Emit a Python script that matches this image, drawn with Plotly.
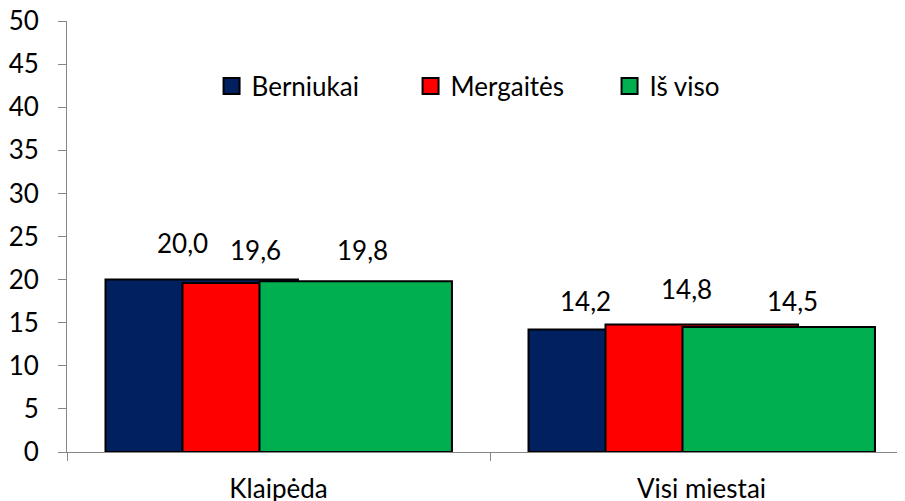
import plotly.graph_objects as go

categories = ["Klaipėda", "Visi miestai"]
series_names = ["Berniukai", "Mergaitės", "Iš viso"]
berniukai = [20.0, 14.2]
mergaites = [19.6, 14.8]
is_viso = [19.8, 14.5]
y_ticks = [0, 5, 10, 15, 20, 25, 30, 35, 40, 45, 50]

values = [berniukai, mergaites, is_viso]
colors = ["#002060", "#FF0000", "#00B050"]
offsets = [-0.409, -0.227, -0.045]
bar_width = 0.455

# label placement styles (x offset from category centre in category units, y shift in px)
label_dx = [[-0.227, -0.274], [-0.054, -0.035], [0.199, 0.215]]
label_dy = [[37, 29], [33, 35], [31, 26]]

FONT = "Lato"
FS = 26

fig = go.Figure()
for name, vals, col, off in zip(series_names, values, colors, offsets):
    fig.add_trace(go.Bar(
        x=categories, y=vals, name=name,
        marker=dict(color=col, line=dict(color="black", width=2)),
        offset=off, width=bar_width, showlegend=False,
    ))
    fig.add_trace(go.Scatter(
        x=[None], y=[None], mode="markers", name=name,
        marker=dict(symbol="square", size=16, color=col,
                    line=dict(color="black", width=2)),
    ))

annotations = []
for si, vals in enumerate(values):
    for ci, v in enumerate(vals):
        annotations.append(dict(
            x=ci + label_dx[si][ci], y=v, xref="x", yref="y",
            text=f"{v:.1f}".replace(".", ","), showarrow=False,
            yanchor="middle", xanchor="center", yshift=label_dy[si][ci],
            font=dict(family=FONT, size=FS, color="black"),
        ))

# page body has an 8px default margin; compensate so the plot area lands where the reference has it
fig.update_layout(
    width=897, height=493,
    margin=dict(l=59, r=0, t=13, b=49),
    paper_bgcolor="white", plot_bgcolor="white",
    barmode="overlay",
    font=dict(family=FONT, size=FS, color="black"),
    annotations=annotations,
    legend=dict(orientation="h", x=0.1725, y=0.849, xanchor="left",
                yanchor="middle", font=dict(family=FONT, size=FS),
                bgcolor="rgba(0,0,0,0)", itemwidth=30,
                entrywidth=154),
    showlegend=True,
)
fig.update_xaxes(
    type="category", range=[-0.5, 1.481], automargin=False,
    showline=True, linecolor="#868686", linewidth=1,
    ticks="outside", tickson="boundaries", ticklen=8, tickcolor="#868686",
    ticklabelstandoff=14, ticklabeloverflow="allow",
    showgrid=False, zeroline=False,
    tickfont=dict(family=FONT, size=FS, color="black"),
)
fig.update_yaxes(
    range=[0, 50], tickvals=y_ticks, automargin=False,
    showline=True, linecolor="#868686", linewidth=1,
    ticks="outside", ticklen=8, tickcolor="#868686",
    ticklabelstandoff=14, ticklabeloverflow="allow",
    showgrid=False, zeroline=False,
    tickfont=dict(family=FONT, size=FS, color="black"),
)
fig.write_html("out.html")
